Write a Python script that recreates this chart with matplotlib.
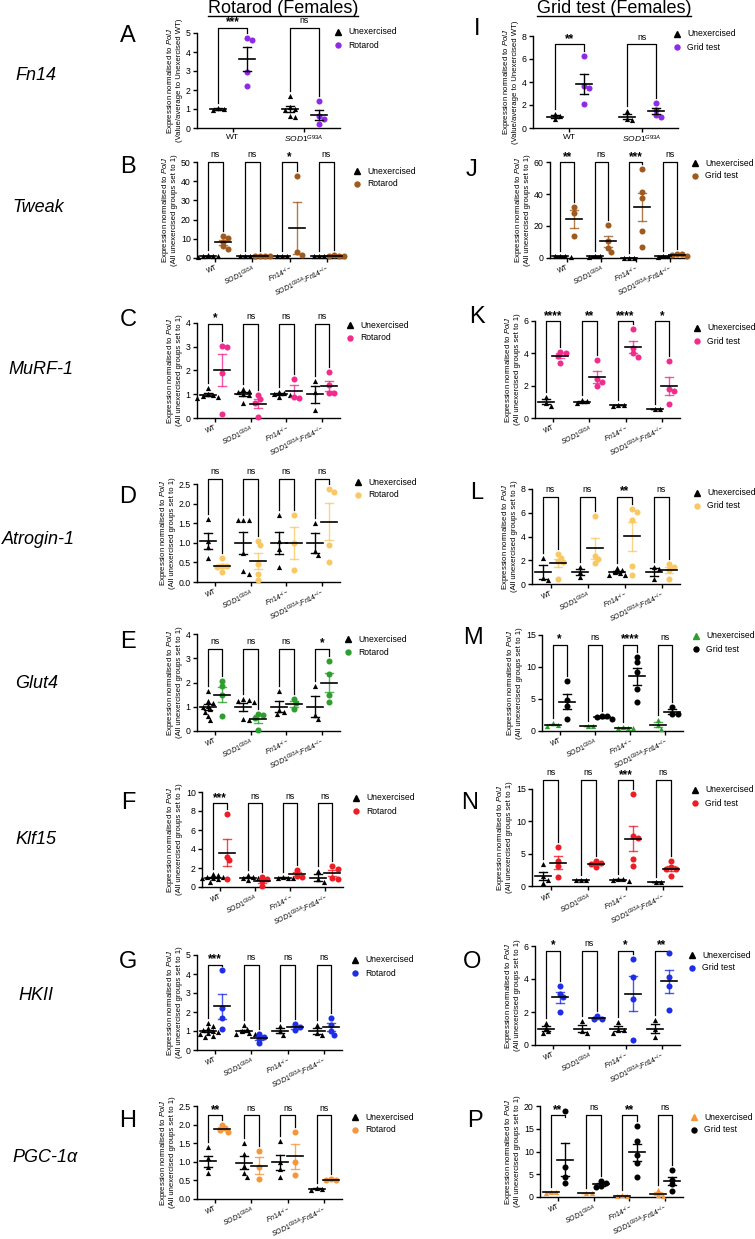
import numpy as np
import matplotlib
matplotlib.use("Agg")
import matplotlib.pyplot as plt
from matplotlib.lines import Line2D

plt.rcParams['font.family'] = ['Liberation Sans', 'DejaVu Sans']
plt.rcParams['mathtext.fontset'] = 'custom'
plt.rcParams['mathtext.rm'] = 'Liberation Sans'
plt.rcParams['mathtext.it'] = 'Liberation Sans:italic'
plt.rcParams['mathtext.bf'] = 'Liberation Sans:bold'

W, H = 755, 1239
DPI = 100

# ---------------- categories ----------------
geno2 = ["WT", r"$\mathit{SOD1}^{\mathit{G93A}}$"]
geno4 = ["WT", r"$\mathit{SOD1}^{\mathit{G93A}}$", r"$\mathit{Fn14}^{-/-}$",
         r"$\mathit{SOD1}^{\mathit{G93A}}$;$\mathit{Fn14}^{-/-}$"]

# ---------------- data (Rotarod, females) ----------------
A_unex = [[1.05, 1.0, 0.95], [1.7, 1.1, 1.0, 0.95, 0.6, 0.65]]
A_ex = [[4.62, 4.72, 2.95, 2.2], [1.42, 0.65, 0.5, 0.2]]
A_sig = ["***", "ns"]

B_unex = [[1.5, 1.2, 1.0, 0.8, 0.5], [1.2, 1.0, 0.8, 1.0], [1.0, 0.8, 1.2], [1.2, 1.0, 0.8, 1.0]]
B_ex = [[11.3, 10.5, 8.5, 6.2, 4.8], [1.1, 0.9, 1.2, 0.8], [42.5, 3.2, 1.5], [1.2, 1.5, 0.9, 1.3]]
B_sig = ["ns", "ns", "*", "ns"]

C_unex = [[1.28, 1.0, 0.95, 0.9, 0.85, 0.92], [1.22, 1.15, 1.1, 1.0, 0.62, 0.95],
          [1.1, 1.05, 0.95, 0.9, 1.0], [1.55, 1.1, 0.35]]
C_ex = [[2.97, 3.05, 1.9, 0.18], [0.95, 0.78, 0.65, 0.05], [1.65, 0.9, 0.85], [1.95, 1.4, 1.05, 1.05]]
C_sig = ["*", "ns", "ns", "ns"]

D_unex = [[1.6, 1.05, 0.9, 0.62], [1.58, 1.58, 1.58, 0.75, 0.28, 0.2], [1.72, 1.05, 0.85, 0.38], [1.5, 0.8, 0.7]]
D_ex = [[0.6, 0.42, 0.4, 0.38, 0.25], [1.05, 0.95, 0.45, 0.2, 0.05], [1.7, 1.0, 0.3], [2.38, 2.3, 0.95, 0.52]]
D_sig = ["ns", "ns", "ns", "ns"]

E_unex = [[1.65, 1.25, 1.15, 1.05, 1.0, 0.9, 0.8, 0.6, 0.45], [1.3, 1.28, 1.22, 1.2, 0.48, 0.45],
          [1.65, 0.85, 0.8, 0.7], [1.85, 0.65, 0.48]]
E_ex = [[2.05, 1.85, 1.48, 0.62], [0.7, 0.66, 0.55, 0.05], [1.3, 1.15, 0.9], [2.9, 2.35, 1.5, 1.2]]
E_sig = ["ns", "ns", "ns", "*"]

F_unex = [[1.4, 1.25, 1.1, 1.05, 1.0, 0.9, 0.8, 0.5], [1.3, 1.1, 1.0, 0.9, 0.7], [1.0, 0.95, 1.0, 1.05], [1.7, 0.8, 0.5]]
F_ex = [[7.7, 3.2, 2.8, 0.8], [1.1, 0.8, 0.6, 0.1], [1.8, 1.2, 1.1], [2.2, 1.9, 1.0, 0.8]]
F_sig = ["***", "ns", "ns", "ns"]

G_unex = [[1.4, 1.25, 1.15, 1.05, 1.0, 0.95, 0.9, 0.85, 0.75, 0.7], [1.3, 1.1, 1.0, 0.9, 0.85, 0.85],
          [1.25, 1.0, 0.8], [1.3, 0.9, 0.8]]
G_ex = [[4.2, 2.2, 1.7, 1.1], [0.85, 0.7, 0.6, 0.35], [1.35, 1.2, 1.05], [1.7, 1.3, 1.0, 0.8]]
G_sig = ["***", "ns", "ns", "ns"]

H_unex = [[1.4, 1.1, 0.85, 0.7], [1.5, 1.2, 0.9, 0.7, 0.6], [1.55, 1.0, 0.8, 0.6], [0.28, 0.25, 0.3]]
H_ex = [[2.0, 1.9, 1.85, 1.8], [1.3, 0.85, 0.55], [1.8, 1.0, 0.65], [0.55, 0.52, 0.5]]
H_sig = ["**", "ns", "ns", "ns"]

# ---------------- data (Grid test, females) ----------------
I_unex = [[1.2, 1.05, 0.75], [1.5, 0.8, 0.7]]
I_ex = [[6.25, 3.65, 3.5, 2.05], [2.15, 1.6, 1.15, 0.95]]
I_sig = ["**", "ns"]

J_unex = [[1.0, 0.8, 1.2, 1.0], [1.0, 0.8, 1.2], [0.3, 0.2, 0.25], [1.0, 0.8, 1.2]]
J_ex = [[32.0, 28.0, 13.5], [20.5, 10.5, 6.5, 4.0], [55.5, 41.5, 37.5, 17.0, 7.0], [2.5, 2.2, 1.8, 1.5]]
J_sig = ["**", "ns", "***", "ns"]

K_unex = [[1.3, 0.95, 0.75], [1.1, 1.05, 0.9], [0.8, 0.78, 0.77], [0.55, 0.55]]
K_ex = [[4.1, 4.05, 3.85, 3.4], [3.6, 2.4, 2.2, 1.95], [5.5, 4.3, 4.0, 3.8], [3.5, 1.8, 1.7, 0.85]]
K_sig = ["****", "**", "****", "*"]

L_unex = [[2.2, 0.5, 0.3], [1.4, 1.0, 0.6], [1.35, 1.2, 1.0, 0.9, 0.8, 0.75], [1.4, 1.25, 0.4]]
L_ex = [[2.55, 2.2, 1.9, 1.85, 0.4], [5.7, 2.4, 2.1, 1.8], [6.3, 6.1, 5.4, 1.5, 0.75], [1.65, 1.4, 1.2, 0.4]]
L_sig = ["ns", "ns", "**", "ns"]

M_unex = [[1.2, 1.0, 0.8], [0.8, 0.8], [0.5, 0.5, 0.55, 0.5], [1.7, 0.9, 0.3]]
M_ex = [[7.8, 4.8, 3.9, 1.9], [2.4, 2.3, 2.2, 1.9], [11.5, 10.8, 9.2, 6.6, 4.5], [3.8, 2.6, 2.6]]
M_sig = ["*", "ns", "****", "ns"]

N_unex = [[3.4, 1.5, 1.0, 0.5], [1.0, 0.9, 0.95], [1.1, 1.0, 0.8, 1.05], [0.6, 0.6]]
N_ex = [[6.1, 3.8, 3.1, 1.4], [3.9, 3.6, 3.4, 3.0], [14.2, 7.7, 7.5, 4.1, 3.1], [3.8, 2.9, 2.7, 2.6, 1.5]]
N_sig = ["ns", "ns", "***", "ns"]

O_unex = [[1.35, 1.05, 0.85, 0.7], [1.45, 0.85, 0.7], [1.4, 0.9, 0.9, 0.75], [1.5, 1.0, 0.5]]
O_ex = [[3.6, 3.1, 2.9, 2.0], [1.75, 1.6, 1.55], [5.2, 4.1, 2.8, 0.3], [5.6, 4.1, 3.6, 2.1]]
O_sig = ["*", "ns", "*", "**"]

P_unex = [[1.1, 0.9, 1.0], [0.8, 0.8], [0.3, 0.35, 0.3], [1.5, 0.5, 0.3]]
P_ex = [[18.8, 6.5, 4.5, 3.0], [3.5, 3.0, 2.5, 2.2], [15.5, 12.4, 9.2, 7.5, 4.4], [6.0, 3.8, 2.8, 1.4]]
P_sig = ["**", "ns", "**", "ns"]

genes = ["Fn14", "Tweak", "MuRF-1", "Atrogin-1", "Glut4", "Klf15", "HKII", "PGC-1α"]
titles = ["Rotarod (Females)", "Grid test (Females)"]
ex_labels = ["Rotarod", "Grid test"]

# ---------------- colours ----------------
PURPLE = "#8D2BE6"
BROWN = "#A05A1E"
PINK = "#F02D8C"
LORANGE = "#F9C864"
GREEN = "#2E9E2E"
RED = "#EE1C25"
BLUE = "#1E2DE6"
ORANGE = "#F5963A"
K_ = "black"

YL1 = "Expression normalised to $\\mathit{PolJ}$\n(Value/average to Unexercised WT)"
YL2 = "Expression normalised to $\\mathit{PolJ}$\n(All unexercised groups set to 1)"

# style / layout per panel
panels = [
    dict(L="A", col=0, unex=A_unex, ex=A_ex, sig=A_sig, cats=geno2, box=(197, 340, 128, 33),
         ymax=5, ystep=1, fmt="{:.0f}", cu=K_, ce=PURPLE, cerr=K_, br=1.055, leg=(338, 32),
         lxy=(128, 36), yl=YL1),
    dict(L="B", col=0, unex=B_unex, ex=B_ex, sig=B_sig, cats=geno4, box=(197, 345, 258, 162),
         ymax=50, ystep=10, fmt="{:.0f}", cu=K_, ce=BROWN, cerr=BROWN, br=1.0, leg=(357, 171),
         lxy=(128, 167), yl=YL2),
    dict(L="C", col=0, unex=C_unex, ex=C_ex, sig=C_sig, cats=geno4, box=(197, 340, 418, 323),
         ymax=4, ystep=1, fmt="{:.0f}", cu=K_, ce=PINK, cerr=PINK, br=0.99, leg=(350, 325),
         lxy=(128, 320), yl=YL2),
    dict(L="D", col=0, unex=D_unex, ex=D_ex, sig=D_sig, cats=geno4, box=(197, 340, 582, 484),
         ymax=2.5, ystep=0.5, fmt="{:.1f}", cu=K_, ce=LORANGE, cerr=LORANGE, br=1.05, leg=(358, 482),
         lxy=(128, 497), yl=YL2),
    dict(L="E", col=0, unex=E_unex, ex=E_ex, sig=E_sig, cats=geno4, box=(197, 340, 731, 634),
         ymax=4, ystep=1, fmt="{:.0f}", cu=K_, ce=GREEN, cerr=GREEN, br=0.85, leg=(348, 639),
         lxy=(128, 642), yl=YL2),
    dict(L="F", col=0, unex=F_unex, ex=F_ex, sig=F_sig, cats=geno4, box=(202, 343, 887, 792),
         ymax=10, ystep=2, fmt="{:.0f}", cu=K_, ce=RED, cerr=RED, br=0.88, leg=(356, 798),
         lxy=(128, 803), yl=YL2),
    dict(L="G", col=0, unex=G_unex, ex=G_ex, sig=G_sig, cats=geno4, box=(197, 342, 1050, 955),
         ymax=5, ystep=1, fmt="{:.0f}", cu=K_, ce=BLUE, cerr=BLUE, br=0.9, leg=(355, 960),
         lxy=(128, 962), yl=YL2),
    dict(L="H", col=0, unex=H_unex, ex=H_ex, sig=H_sig, cats=geno4, box=(197, 342, 1199, 1106),
         ymax=2.5, ystep=0.5, fmt="{:.1f}", cu=K_, ce=ORANGE, cerr=ORANGE, br=0.9, leg=(355, 1117),
         lxy=(128, 1121), yl=YL2),
    dict(L="I", col=1, unex=I_unex, ex=I_ex, sig=I_sig, cats=geno2, box=(533, 678, 128, 36),
         ymax=8, ystep=2, fmt="{:.0f}", cu=K_, ce=PURPLE, cerr=K_, br=0.91, leg=(677, 34),
         lxy=(477, 29), yl=YL1),
    dict(L="J", col=1, unex=J_unex, ex=J_ex, sig=J_sig, cats=geno4, box=(550, 687, 258, 162),
         ymax=60, ystep=20, fmt="{:.0f}", cu=K_, ce=BROWN, cerr=BROWN, br=1.0, leg=(695, 163),
         lxy=(472, 170), yl=YL2),
    dict(L="K", col=1, unex=K_unex, ex=K_ex, sig=K_sig, cats=geno4, box=(535, 680, 418, 321),
         ymax=6, ystep=2, fmt="{:.0f}", cu=K_, ce=PINK, cerr=PINK, br=1.0, leg=(697, 328),
         lxy=(477, 317), yl=YL2),
    dict(L="L", col=1, unex=L_unex, ex=L_ex, sig=L_sig, cats=geno4, box=(532, 680, 584, 489),
         ymax=8, ystep=2, fmt="{:.0f}", cu=K_, ce=LORANGE, cerr=LORANGE, br=0.92, leg=(697, 493),
         lxy=(477, 493), yl=YL2),
    dict(L="M", col=1, unex=M_unex, ex=M_ex, sig=M_sig, cats=geno4, box=(542, 683, 731, 635),
         ymax=15, ystep=5, fmt="{:.0f}", cu=GREEN, ce=K_, cerr=K_, br=0.9, leg=(696, 636),
         lxy=(473, 638), yl=YL2),
    dict(L="N", col=1, unex=N_unex, ex=N_ex, sig=N_sig, cats=geno4, box=(532, 682, 886, 789),
         ymax=15, ystep=5, fmt="{:.0f}", cu=K_, ce=RED, cerr=RED, br=1.09, leg=(695, 790),
         lxy=(470, 803), yl=YL2),
    dict(L="O", col=1, unex=O_unex, ex=O_ex, sig=O_sig, cats=geno4, box=(535, 680, 1045, 946),
         ymax=6, ystep=2, fmt="{:.0f}", cu=K_, ce=BLUE, cerr=BLUE, br=0.95, leg=(692, 955),
         lxy=(472, 962), yl=YL2),
    dict(L="P", col=1, unex=P_unex, ex=P_ex, sig=P_sig, cats=geno4, box=(540, 683, 1197, 1106),
         ymax=20, ystep=5, fmt="{:.0f}", cu=ORANGE, ce=K_, cerr=K_, br=0.9, leg=(694, 1117),
         lxy=(475, 1121), yl=YL2),
]

gene_pos = [(15, 75), (12, 207), (8, 370), (2, 540), (15, 683), (15, 839), (18, 995), (12, 1157)]

fig = plt.figure(figsize=(W / DPI, H / DPI), dpi=DPI)


def fx(x):
    return x / W


def fy(y):
    return 1 - y / H


def swarm(vals, ppu_y, ppu_x, step=2.6, dmin=4.2):
    vals = np.asarray(vals, float)
    order = np.argsort(-vals, kind="stable")
    placed = []
    offs = np.zeros(len(vals))
    cands = [0.0]
    for j in range(1, 12):
        cands += [j * step, -j * step]
    for idx in order:
        yp = vals[idx] * ppu_y
        chosen = cands[-1]
        for c in cands:
            if all((c - px) ** 2 + (yp - py) ** 2 >= dmin ** 2 for px, py in placed):
                chosen = c
                break
        placed.append((chosen, yp))
        offs[idx] = chosen
    return offs / ppu_x


for p in panels:
    x0, x1, yb, yt = p["box"]
    ax = fig.add_axes([fx(x0), fy(yb), (x1 - x0) / W, (yb - yt) / H])
    n = len(p["cats"])
    ax.set_xlim(-0.5, n - 0.5)
    ax.set_ylim(0, p["ymax"])
    ppu_x = (x1 - x0) / n
    ppu_y = (yb - yt) / p["ymax"]
    for s in ["top", "right"]:
        ax.spines[s].set_visible(False)
    for s in ["left", "bottom"]:
        ax.spines[s].set_linewidth(1.0)
    ticks = np.arange(0, p["ymax"] + 1e-9, p["ystep"])
    ax.set_yticks(ticks)
    ax.set_yticklabels([p["fmt"].format(t) for t in ticks])
    ax.tick_params(axis="both", length=3, width=1.0, labelsize=6.3, pad=1.5)
    ax.tick_params(axis="x", pad=1.0)
    ax.set_xticks(range(n))
    if n == 2:
        ax.set_xticklabels(p["cats"], fontsize=6.0)
    else:
        ax.set_xticklabels(p["cats"], fontsize=5.0, rotation=25, ha="right",
                           rotation_mode="anchor")
    ax.set_ylabel(p["yl"], fontsize=5.6, labelpad=2, linespacing=1.0)

    off = 0.2
    for i in range(n):
        for vals, xc, col, mk, cerr in [(p["unex"][i], i - off, p["cu"], "^", p["cu"]),
                                        (p["ex"][i], i + off, p["ce"], "o", p["cerr"])]:
            v = np.asarray(vals, float)
            xs = xc + swarm(v, ppu_y, ppu_x)
            ax.scatter(xs, v, marker=mk, s=(14 if mk == "^" else 19), color=col,
                       linewidths=0, zorder=3, clip_on=False)
            m = v.mean()
            se = v.std(ddof=1) / np.sqrt(len(v))
            hw = 8.0 / ppu_x
            cw = 4.0 / ppu_x
            al = 0.8 if cerr != K_ else 1.0
            ax.plot([xc, xc], [m - se, m + se], color=cerr, lw=1.0, zorder=4, alpha=al)
            ax.plot([xc - cw, xc + cw], [m + se, m + se], color=cerr, lw=1.0, zorder=4, alpha=al)
            ax.plot([xc - cw, xc + cw], [m - se, m - se], color=cerr, lw=1.0, zorder=4, alpha=al)
            ax.plot([xc - hw, xc + hw], [m, m], color="black", lw=1.2, zorder=5)
        # significance bracket
        top = p["br"] * p["ymax"]
        gap = 5.0 / ppu_y
        u = np.asarray(p["unex"][i], float)
        e = np.asarray(p["ex"][i], float)
        bl = max(u.max(), u.mean() + u.std(ddof=1) / np.sqrt(len(u))) + gap
        brr = max(e.max(), e.mean() + e.std(ddof=1) / np.sqrt(len(e))) + gap
        bl = min(bl, top - 1.5 / ppu_y)
        brr = min(brr, top - 1.5 / ppu_y)
        ax.plot([i - off, i - off, i + off, i + off], [bl, top, top, brr], color="black",
                lw=0.9, clip_on=False, zorder=2)
        sg = p["sig"][i]
        if sg == "ns":
            ax.annotate(sg, (i, top), xytext=(0, 2.0), textcoords="offset points",
                        ha="center", va="bottom", fontsize=6.3, annotation_clip=False)
        else:
            ax.annotate(sg, (i, top), xytext=(0, -0.5), textcoords="offset points",
                        ha="center", va="bottom", fontsize=8.5, fontweight="bold",
                        annotation_clip=False)

    # legend
    mx, my = p["leg"]
    lab = ex_labels[p["col"]]
    fig.add_artist(Line2D([fx(mx)], [fy(my)], marker="^", markersize=4.2, color=p["cu"],
                          linestyle="none"))
    fig.add_artist(Line2D([fx(mx)], [fy(my + 13)], marker="o", markersize=4.6, color=p["ce"],
                          linestyle="none", markeredgewidth=0))
    fig.text(fx(mx + 10), fy(my), "Unexercised", fontsize=6.2, va="center", ha="left")
    fig.text(fx(mx + 10), fy(my + 13), lab, fontsize=6.2, va="center", ha="left")

    # panel letter
    lx, ly = p["lxy"]
    fig.text(fx(lx), fy(ly), p["L"], fontsize=17, ha="center", va="center")

# gene labels
for g, (gx, gy) in zip(genes, gene_pos):
    fig.text(fx(gx), fy(gy), g, fontsize=13, style="italic", ha="left", va="center")

# column titles (underlined)
fig.canvas.draw()
renderer = fig.canvas.get_renderer()
for t, cx in zip(titles, [283, 614]):
    tx = fig.text(fx(cx), fy(13), t, fontsize=13, ha="center", va="baseline")
    bb = tx.get_window_extent(renderer=renderer)
    fig.add_artist(Line2D([bb.x0 / W, bb.x1 / W], [fy(15.5), fy(15.5)], color="black", lw=1.0))

fig.savefig("out.png", dpi=DPI)
